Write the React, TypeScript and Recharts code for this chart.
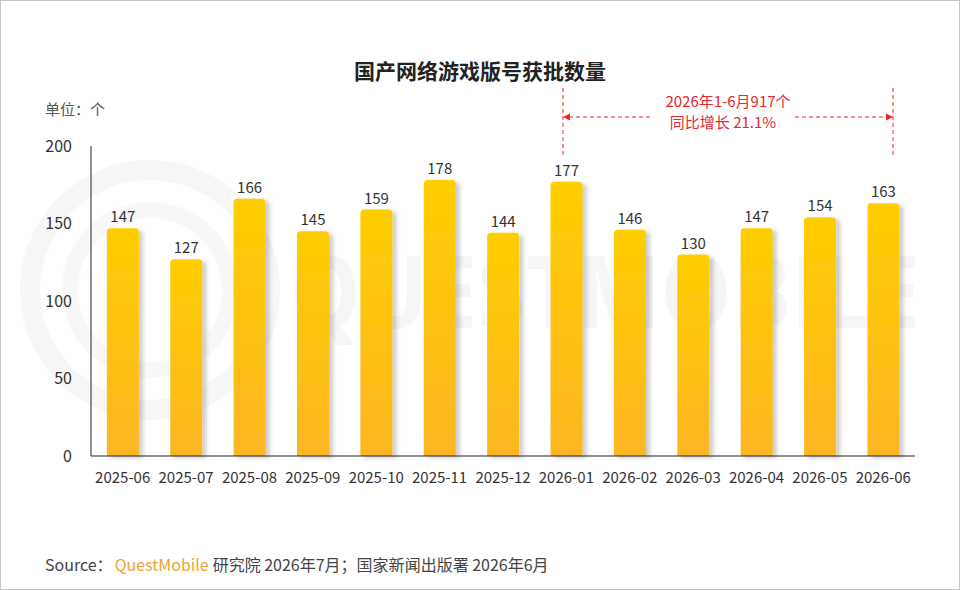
import React from "react";
import { BarChart, Bar, XAxis, YAxis, LabelList, Rectangle } from "recharts";

const months = [
  "2025-06", "2025-07", "2025-08", "2025-09", "2025-10", "2025-11", "2025-12",
  "2026-01", "2026-02", "2026-03", "2026-04", "2026-05", "2026-06",
];
const approvals = [147, 127, 166, 145, 159, 178, 144, 177, 146, 130, 147, 154, 163];
const yTicks = [0, 50, 100, 150, 200];

const data = months.map((m, i) => ({ month: m, value: approvals[i] }));

const FONT = "'Microsoft YaHei', 'Noto Sans CJK SC', sans-serif";
const RED = "#e8272f";

function ShadowBar(props: any) {
  const { x, y, width, height } = props;
  return (
    <Rectangle
      x={x}
      y={y}
      width={width}
      height={height}
      radius={[4, 4, 0, 0]}
      fill="url(#barGrad)"
      filter="url(#barShadow)"
    />
  );
}

export default function App() {
  return (
    <div
      style={{
        position: "absolute",
        left: 0,
        top: 0,
        width: 960,
        height: 590,
        background: "#fff",
        boxSizing: "border-box",
        border: "1px solid #c8c8c8",
        fontFamily: FONT,
        overflow: "hidden",
      }}
    >
      {/* faint watermark */}
      <svg width={960} height={590} style={{ position: "absolute", left: -1, top: -1 }}>
        <circle cx={150} cy={290} r={120} fill="none" stroke="#f7f7f7" strokeWidth={20} />
        <circle cx={150} cy={290} r={80} fill="none" stroke="#f8f8f8" strokeWidth={16} />
        <text
          x={290}
          y={328}
          fontSize={100}
          fontWeight={700}
          fill="#f6f6f6"
          textLength={630}
          lengthAdjust="spacingAndGlyphs"
          fontFamily="'Open Sans', sans-serif"
        >
          QUESTMOBILE
        </text>
      </svg>

      <div style={{ position: "absolute", left: -1, top: -1 }}>
        <BarChart
          width={960}
          height={590}
          data={data}
          margin={{ top: 146, right: 45, bottom: 104, left: 0 }}
          barCategoryGap="25%"
        >
          <defs>
            <linearGradient id="barGrad" x1="0" y1="0" x2="0" y2="1">
              <stop offset="0%" stopColor="#ffcd00" />
              <stop offset="100%" stopColor="#fdb623" />
            </linearGradient>
            <filter id="barShadow" x="-30%" y="-10%" width="180%" height="120%">
              <feDropShadow dx={4} dy={2} stdDeviation={2} floodColor="#000" floodOpacity={0.2} />
            </filter>
          </defs>
          <XAxis
            dataKey="month"
            height={30}
            interval={0}
            axisLine={{ stroke: "#222" }}
            tickLine={false}
            tickSize={0}
            tickMargin={16}
            tick={{ fontSize: 15, fill: "#333", fontFamily: FONT }}
          />
          <YAxis
            width={91}
            domain={[0, 200]}
            ticks={yTicks}
            axisLine={{ stroke: "#222" }}
            tickLine={false}
            tickSize={0}
            tickMargin={19}
            tick={{ fontSize: 16, fill: "#333", fontFamily: FONT }}
          />
          <Bar dataKey="value" shape={ShadowBar} isAnimationActive={false}>
            <LabelList
              dataKey="value"
              position="top"
              offset={6}
              style={{ fontSize: 15, fill: "#333", fontFamily: FONT }}
            />
          </Bar>
        </BarChart>
      </div>

      {/* title, unit, annotation, source */}
      <svg width={960} height={590} style={{ position: "absolute", left: -1, top: -1, pointerEvents: "none" }}>
        <text x={480} y={79} textAnchor="middle" fontSize={21} fontWeight={700} fill="#222">
          国产网络游戏版号获批数量
        </text>
        <text x={45} y={115} fontSize={15} fill="#555">
          单位：个
        </text>

        <g stroke={RED} strokeWidth={1} strokeDasharray="4 3" fill="none">
          <line x1={563} y1={88} x2={563} y2={158} />
          <line x1={893} y1={88} x2={893} y2={158} />
          <line x1={569} y1={117} x2={650} y2={117} />
          <line x1={795} y1={117} x2={887} y2={117} />
        </g>
        <polygon points="563,117 570,113.5 570,120.5" fill={RED} />
        <polygon points="893,117 886,113.5 886,120.5" fill={RED} />
        <text x={728} y={107} textAnchor="middle" fontSize={15} fill={RED}>
          2026年1-6月917个
        </text>
        <text x={723} y={128} textAnchor="middle" fontSize={15} fill={RED}>
          同比增长 21.1%
        </text>

        <text x={45} y={571} fontSize={16} fill="#444">
          Source：
          <tspan fill="#f0a23a" dx={2}>QuestMobile</tspan>
          <tspan dx={4}>研究院 2026年7月；国家新闻出版署 2026年6月</tspan>
        </text>
      </svg>
    </div>
  );
}
